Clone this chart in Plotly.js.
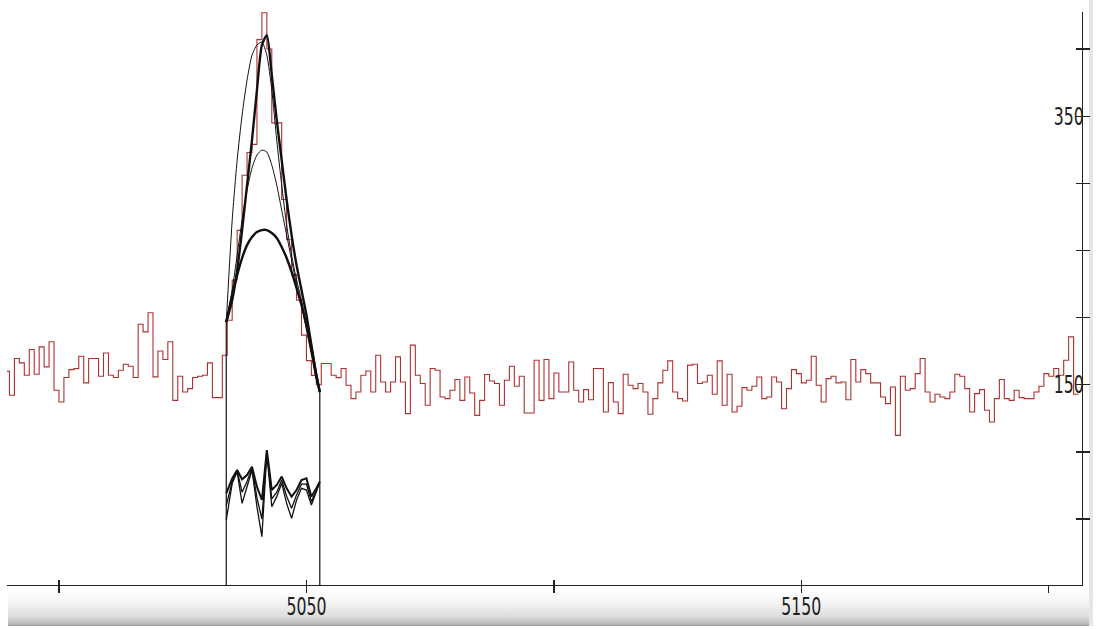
<!DOCTYPE html>
<html>
<head>
<meta charset="utf-8">
<script src="https://cdn.plot.ly/plotly-3.0.1.min.js"></script>
<style>
  html, body { margin: 0; padding: 0; background: #ffffff; }
  #wrap { position: relative; width: 1099px; height: 629px; overflow: hidden; background: #ffffff; }
  #band { position: absolute; left: 8px; top: 590px; width: 1082px; height: 36px;
          background: linear-gradient(to bottom, #ffffff 0%, #f4f4f4 35%, #dcdcdc 75%, #b8b8b8 95%, #9a9a9a 100%); }
  #rstrip { position: absolute; left: 1089px; top: 0; width: 4px; height: 626px; background: #e6e6e6; }
  #chart { position: absolute; left: 0; top: 0; width: 1099px; height: 629px; }
</style>
</head>
<body>
<div id="wrap">
  <div id="band"></div>
  <div id="rstrip"></div>
  <div id="chart"></div>
</div>
<script>
// ---- spectrum histogram (1-unit bins, first bin starts at 4989) ----
const binStart = 4989;
const leftNoise = [160,
  142.2,169.6,166.3,157.1,176.3,157.8,178.2,163.3,182,145.9,
  137.2,155.4,161.3,162,171.3,151.4,169.6,169.6,156.3,173.7,
  157.1,155.4,160.8,165.3,163.8,155.4,195.1,189.4,203.6,155.9,
  175.2,168.8,182,138.4,156.3,144.6,147.1,155.4,156.3,157.1,
  166.3,140.4,140.4,172];
const peakCounts = [198,228,265,306,323,329,407,427,400,345,345,288,258,232,213,187,168,157,150];
const rightNoise = [
  165.8,165.8,157.1,155.3,162.1,149.6,139.7,144.6,157.1,160.3,
  144.6,172,152.1,144.6,152.1,170.8,152.1,128.5,179.5,157.1,
  150.9,134.7,162.1,160.8,140.9,139.7,145.9,153.9,138.4,155.8,
  143.9,127.2,138.4,157.6,152.8,150.9,134.7,153.4,163.8,148.9,
  156.3,129,129,168.3,138.4,168.8,139.7,158.8,144.6,144.6,167,
  145.9,137.2,146.4,138.9,162.1,162.1,129.7,151.6,137.2,128.5,
  157.8,149.6,147.1,150.9,144.6,128,139.7,151.4,160.8,167.8,
  144.6,139.7,137.9,164.6,165.3,150.9,152.1,157.1,142.9,167.8,
  134.7,157.8,129.7,134,147.9,145.9,148.9,155.8,139.7,140.9,
  155.8,152.1,132.2,147.1,161.3,158.3,151.4,153.4,171.3,149.6,
  137.2,154.6,
  156.3,151.4,152.1,138.9,168.8,152.1,161.3,158.3,151.4,151.4,
  140.9,136,148.4,112.3,156.3,145.9,147.1,158.3,169.6,144.6,
  137.2,142.9,140.9,139.7,144.6,157.8,156.3,147.1,129.7,143.4,
  146.4,131,122.3,139.7,153.9,139.7,138.4,145.9,140.4,139.7,
  139.7,144.6,148.9,158.3,156.3,162.1,157.1,168.3,185.7,142.9];
const counts = leftNoise.concat(peakCounts, rightNoise);

// ---- fitted peak curves ----
const fitX = [5033.8,5035,5036,5037,5038,5039,5040,5041,5042,5043,5044,5045,5046,5047,5048,5049,5050,5051,5052,5052.7];
const fitA = [196.7,272.7,317.3,350.9,376.9,395.5,403,405.2,395.5,369.5,332.2,298.7,268.9,246.6,228,213.1,194.5,175.9,155,144.6];
const fitB = [196.7,213,235.4,265.2,298.7,332.2,369.5,403,410.4,380.6,347.1,317.3,287.6,261.5,239.2,220.6,202,179.6,157.3,144.6];
const fitC = [196.7,220.6,246.6,272.7,295,311.4,321.1,324.8,323.3,313.6,298.7,280.1,261.5,242.9,224.3,209.4,190.8,172.2,153.5,144.6];
const fitD = [196.7,216.8,231.7,244.4,254,260,263.7,265.2,265.2,263,259.3,252.6,244.4,234,222,209.4,194.5,177.4,157.3,144.6];

// ---- residuals ----
const resX = [5033.8,5035,5036,5037,5038,5039,5040,5041,5042,5043,5044,5045,5046,5047,5048,5049,5050,5051,5052,5052.7];
const res1 = [69.2,80.3,86.5,79.6,82.8,89,74.1,64.2,101.4,71.6,75.4,81.6,72.9,66.7,71.6,79.1,80.3,66.7,72.9,77.8];
const res2 = [49.3,76.6,85.3,61.7,74.1,86.5,59.2,36.9,98.9,59.2,66.7,76.6,61.7,50.5,64.2,72.9,71.6,60.5,70.4,77.8];
const res3 = [60,78,86,70,78,88,66,50,100,65,70,79,67,58,68,76,76,63,71,77.8];

// ---- integration window ----
const winLeft = 5033.8, winRight = 5052.7;
const winLeftTop = 196.7, winRightTop = 144.6;

// ---- axes ----
const xTicks = [5000, 5050, 5100, 5150, 5200];
const xTickText = ['', '5050', '', '5150', ''];
const yTicks = [50, 100, 150, 200, 250, 300, 350, 400];
const yTickText = ['', '', '150', '', '', '', '350', ''];

const histX = counts.map((_, i) => binStart + i).concat([binStart + counts.length]);
const histY = counts.concat([counts[counts.length - 1]]);

const black = '#111111';
const traces = [
  {x: histX, y: histY, type: 'scatter', mode: 'lines', line: {shape: 'hv', color: '#b03030', width: 1.1}, hoverinfo: 'skip'},
  {x: [winLeft, winLeft], y: [0, winLeftTop], mode: 'lines', line: {color: black, width: 1.2}},
  {x: [winRight, winRight], y: [0, winRightTop], mode: 'lines', line: {color: black, width: 1.2}},
  {x: fitX, y: fitA, mode: 'lines', line: {color: black, width: 1, shape: 'spline', smoothing: 0.6}},
  {x: fitX, y: fitC, mode: 'lines', line: {color: black, width: 1, shape: 'spline', smoothing: 0.6}},
  {x: fitX, y: fitD, mode: 'lines', line: {color: black, width: 2.4, shape: 'spline', smoothing: 0.6}},
  {x: fitX, y: fitB, mode: 'lines', line: {color: black, width: 2.4, shape: 'spline', smoothing: 0.6}},
  {x: resX, y: res1, mode: 'lines', line: {color: black, width: 2}},
  {x: resX, y: res2, mode: 'lines', line: {color: black, width: 1.3}},
  {x: resX, y: res3, mode: 'lines', line: {color: black, width: 1.3}},
  // carrier for the second (tick-only) axis pair
  {x: [5100], y: [200], xaxis: 'x2', yaxis: 'y2', mode: 'markers', marker: {opacity: 0}, hoverinfo: 'skip'}
];

const tickFont = {family: 'DejaVu Sans Condensed, Liberation Sans Narrow, DejaVu Sans, sans-serif', size: 24, color: '#222222'};
const xr = [4989.5, 5206.7], yr = [0.9, 427.6];
const layout = {
  width: 1099, height: 629,
  margin: {l: 7, r: 17, t: 12, b: 44},
  paper_bgcolor: 'rgba(0,0,0,0)', plot_bgcolor: 'rgba(0,0,0,0)',
  showlegend: false,
  xaxis: {range: xr, showgrid: false, zeroline: false, showline: true, linecolor: '#222', linewidth: 1.3,
          tickmode: 'array', tickvals: xTicks, ticktext: xTickText, ticks: 'inside', ticklen: 5, tickwidth: 1.3,
          tickcolor: '#222', tickfont: tickFont},
  yaxis: {range: yr, side: 'right', showgrid: false, zeroline: false, showline: true, linecolor: '#222', linewidth: 1.3,
          tickmode: 'array', tickvals: yTicks, ticktext: yTickText, ticks: 'outside', ticklen: 7, tickwidth: 1.3,
          tickcolor: '#222', tickfont: tickFont, ticklabelposition: 'inside'},
  xaxis2: {range: xr, overlaying: 'x', anchor: 'y2', side: 'bottom', showgrid: false, zeroline: false, showline: false,
           tickmode: 'array', tickvals: xTicks, ticks: 'outside', ticklen: 7, tickwidth: 1.3, tickcolor: '#222', showticklabels: false},
  yaxis2: {range: yr, overlaying: 'y', anchor: 'x2', side: 'right', showgrid: false, zeroline: false, showline: false,
           tickmode: 'array', tickvals: yTicks, ticks: 'inside', ticklen: 6, tickwidth: 1.3, tickcolor: '#222', showticklabels: false}
};
Plotly.newPlot('chart', traces, layout, {staticPlot: true, displayModeBar: false}).then(function () {
  // the original uses a tall, very condensed typeface: squeeze the tick labels horizontally
  document.querySelectorAll('#chart .xtick text, #chart .ytick text').forEach(function (t) {
    const s = t.textContent || '';
    if (!s) return;
    t.setAttribute('textLength', String(s.length * 10));
    t.setAttribute('lengthAdjust', 'spacingAndGlyphs');
  });
});
</script>
</body>
</html>
